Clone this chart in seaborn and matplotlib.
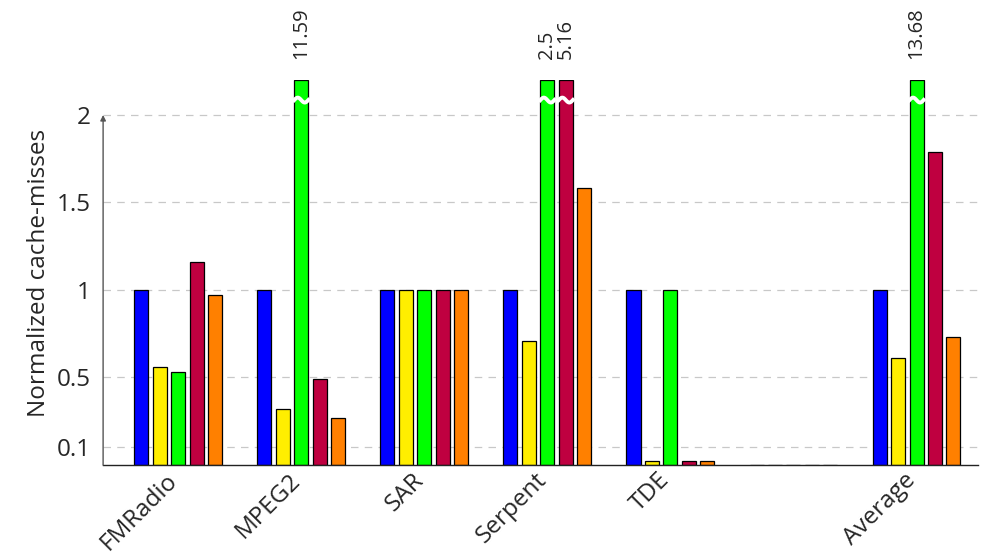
import numpy as np
import pandas as pd
import seaborn as sns
import matplotlib.pyplot as plt
from matplotlib.transforms import ScaledTranslation

# data
benchmarks = ["FMRadio", "MPEG2", "SAR", "Serpent", "TDE", " ", "Average"]
series = ["s1", "s2", "s3", "s4", "s5"]
s1 = [1.0, 1.0, 1.0, 1.0, 1.0, 0.0, 1.0]
s2 = [0.56, 0.32, 1.0, 0.71, 0.02, 0.0, 0.61]
s3 = [0.53, 11.59, 1.0, 2.5, 1.0, 0.0, 13.68]
s4 = [1.16, 0.49, 1.0, 5.16, 0.02, 0.0, 1.79]
s5 = [0.97, 0.27, 1.0, 1.58, 0.02, 0.0, 0.73]
colors = ["#0000ff", "#ffee00", "#00ff00", "#bf0040", "#ff8000"]

YMAX = 2.2
values = [s1, s2, s3, s4, s5]
rows = []
for name, vals in zip(series, values):
    for b, v in zip(benchmarks, vals):
        rows.append({"bench": b, "series": name, "value": v, "shown": min(v, YMAX)})
df = pd.DataFrame(rows)

sns.set_style("white")
plt.rcParams["font.family"] = ["Open Sans", "DejaVu Sans"]

fig = plt.figure(figsize=(9.82, 5.56), dpi=100)
ax = fig.add_axes([0.105, 0.1637, 0.891, 0.6925])

sns.barplot(data=df, x="bench", y="shown", hue="series", order=benchmarks,
            hue_order=series, palette=colors, width=0.75, gap=0.24,
            edgecolor="black", linewidth=0.9, saturation=1, legend=False, ax=ax)

ax.set_xlim(-0.61, 6.5)
ax.set_ylim(0, YMAX)

# broken bars: wavy cut and value label
for cont, vals in zip(ax.containers, values):
    for bar, v in zip(cont, vals):
        if v > YMAX:
            x0 = bar.get_x()
            w = bar.get_width()
            xs = np.linspace(x0 - 0.012, x0 + w + 0.012, 40)
            ys = 2.085 + 0.014 * np.sin((xs - x0) / w * 2 * np.pi)
            ax.plot(xs, ys, color="white", lw=2.8, zorder=5, solid_capstyle="butt")
            ax.text(x0 + w / 2, YMAX + 0.12, f"{v:g}", rotation=90,
                    ha="center", va="bottom", fontsize=14.5, clip_on=False,
                    linespacing=1.0)

ax.set_yticks([0.1, 0.5, 1, 1.5, 2])
ax.set_yticklabels(["0.1", "0.5", "1", "1.5", "2"], fontsize=17.5)
ax.yaxis.grid(True, linestyle=(0, (6, 5)), color="#c8c8c8", lw=0.9)
ax.set_axisbelow(True)
ax.tick_params(axis="y", length=5, width=0.8, color="#555555", pad=4)
ax.tick_params(axis="x", length=5, width=0.8, direction="inout", color="#555555", pad=6)

ax.set_xticks(range(len(benchmarks)))
ax.set_xticklabels(benchmarks, rotation=45, ha="right", va="center",
                   rotation_mode="anchor", fontsize=17.5)
shift = ScaledTranslation(-3 / 72, 0, fig.dpi_scale_trans)
for lab in ax.get_xticklabels():
    lab.set_transform(lab.get_transform() + shift)

ax.set_xlabel("")
ax.set_ylabel("Normalized cache-misses", fontsize=17.5, labelpad=4)

for s in ["top", "right", "left"]:
    ax.spines[s].set_visible(False)
ax.spines["bottom"].set_color("#222222")
ax.spines["bottom"].set_linewidth(1.0)

# left axis arrow up to 2
ax.annotate("", xy=(-0.61, 2.0), xytext=(-0.61, 0),
            arrowprops=dict(arrowstyle="-|>", color="#555555", lw=1.0,
                            mutation_scale=8, shrinkA=0, shrinkB=0),
            annotation_clip=False)

fig.savefig("out.png", dpi=100)
